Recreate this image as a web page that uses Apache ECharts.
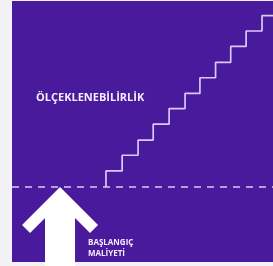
<!DOCTYPE html>
<html>
<head>
<meta charset="utf-8">
<style>
  html, body { margin: 0; padding: 0; background: #f2f1f5; }
  #chart { width: 273px; height: 266px; }
</style>
<script src="https://cdn.jsdelivr.net/npm/echarts@6/dist/echarts.min.js"></script>
</head>
<body>
<div id="chart"></div>
<script>
// staircase corners, in % of the purple panel
const stepX = [36.0, 42.2, 48.3, 54.1, 60.2, 66.3, 72.0, 78.0, 83.8, 89.7, 95.8, 100]
const stepY = [28.7, 34.9, 40.9, 46.7, 52.8, 58.8, 64.6, 70.6, 76.5, 82.6, 88.5, 94.4]
const baseLevel = 28.7   // dashed line = initial cost
const arrowX = 18.4
const scaleLabel = 'ÖLÇEKLENEBİLİRLİK'
const costLabel = ['BAŞLANGIÇ', 'MALİYETİ']

const purple = '#4a1a9c'
const lilac = '#dcc8f4'

const chart = echarts.init(document.getElementById('chart'))

const option = {
  animation: false,
  backgroundColor: '#f2f1f5',
  grid: {
    left: 12, right: 0, top: 1, bottom: 4,
    show: true, backgroundColor: purple, borderWidth: 0
  },
  xAxis: { type: 'value', min: 0, max: 100, show: false },
  yAxis: { type: 'value', min: 0, max: 100, show: false },
  series: [
    {
      // dashed line
      type: 'line',
      data: [[0, baseLevel], [100, baseLevel]],
      symbol: 'none',
      silent: true,
      lineStyle: { color: lilac, width: 1.5, type: [7, 6] }
    },
    {
      // stairs
      type: 'line',
      step: 'start',
      data: stepX.map((x, i) => [x, stepY[i]]),
      symbol: 'none',
      silent: true,
      lineStyle: { color: lilac, width: 1.7 }
    },
    {
      // big arrow
      type: 'custom',
      clip: false,
      silent: true,
      data: [[arrowX, baseLevel]],
      renderItem(params, api) {
        const tip = api.coord([api.value(0), api.value(1)])
        const tx = tip[0], ty = tip[1]
        const bottom = api.getHeight()
        return {
          type: 'polygon',
          shape: {
            points: [
              [tx, ty],
              [tx + 38, ty + 38],
              [tx + 30, ty + 46],
              [tx + 15, ty + 31],
              [tx + 15, bottom],
              [tx - 15, bottom],
              [tx - 15, ty + 31],
              [tx - 30, ty + 46],
              [tx - 38, ty + 38]
            ]
          },
          style: { fill: '#ffffff' }
        }
      }
    }
  ],
  graphic: [
    {
      type: 'text', x: 36, y: 98, silent: true,
      style: { text: scaleLabel, fill: '#f3ecfc', font: 'bold 11px "Open Sans"', verticalAlign: 'middle' }
    },
    {
      type: 'text', x: 88, y: 243, silent: true,
      style: { text: costLabel[0], fill: '#f3ecfc', font: 'bold 8px "Open Sans"', verticalAlign: 'middle' }
    },
    {
      type: 'text', x: 88, y: 254, silent: true,
      style: { text: costLabel[1], fill: '#f3ecfc', font: 'bold 8px "Open Sans"', verticalAlign: 'middle' }
    }
  ]
}

chart.setOption(option)
</script>
</body>
</html>
